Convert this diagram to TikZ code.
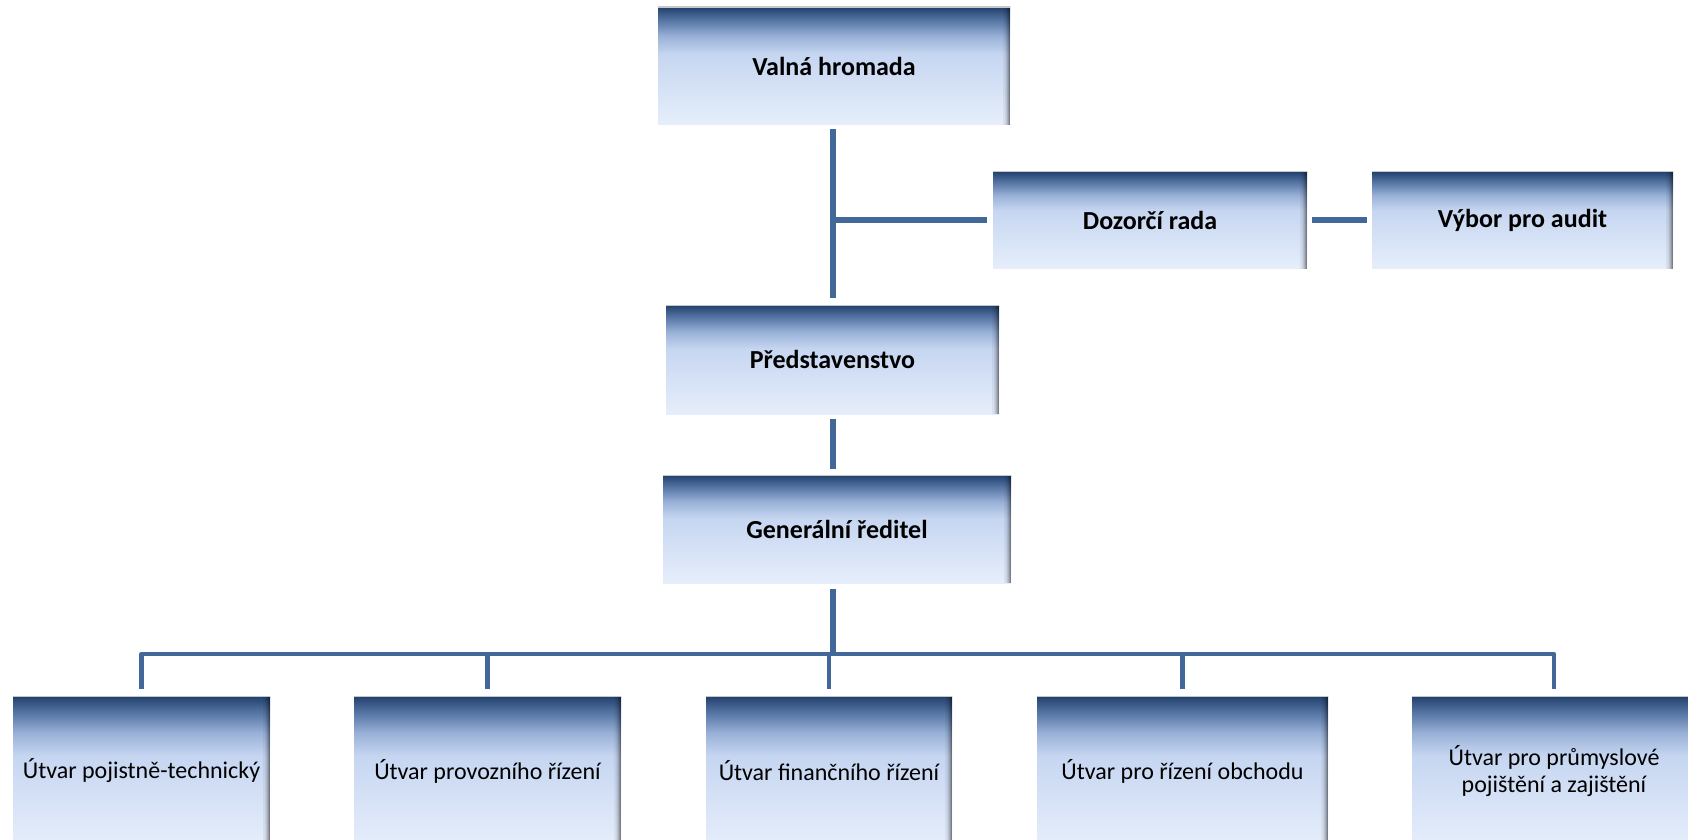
\documentclass[tikz,border=0pt]{standalone}
\usepackage{fontspec}
\setmainfont{Carlito}
\definecolor{lineblue}{RGB}{66,104,153}
\definecolor{sA}{HTML}{E6EEFB}
\definecolor{sB}{HTML}{C6D6F1}
\definecolor{sC}{HTML}{9AB2D8}
\definecolor{sD}{HTML}{50709F}
\definecolor{sE}{HTML}{22406C}
\pgfdeclareverticalshading{boxshade}{100bp}{color(0bp)=(sA); color(25bp)=(sA); color(55bp)=(sB); color(62.5bp)=(sC); color(70bp)=(sD); color(75bp)=(sE); color(100bp)=(sE)}
\tikzset{
  orgbox/.style={rectangle, inner sep=0pt, align=center, text=black, shade, shading=boxshade,
    path picture={
      \foreach \o [count=\i] in {0.05,0.1,0.16,0.24,0.34,0.46} {
        \fill[black, opacity=\o] ([xshift={(\i-7)*0.55pt}]path picture bounding box.north east) rectangle ([xshift={(\i-6)*0.55pt}]path picture bounding box.south east);
      }
      \draw[black!22, line width=1pt] (path picture bounding box.north west) -- (path picture bounding box.north east);
    }},
  topbox/.style={orgbox, font=\fontsize{13}{15.6}\selectfont\bfseries},
  unitbox/.style={orgbox, font=\fontsize{12}{13.5}\selectfont, minimum height=75pt},
  conn/.style={draw=lineblue, line width=3pt},
  busline/.style={draw=lineblue, line width=2.3pt, line join=round},
}
\begin{document}
\begin{tikzpicture}[x=0.5pt,y=-0.5pt]
\useasboundingbox (0,0) rectangle (1688,840);
\clip (0,0) rectangle (1688,840);

\node[topbox, minimum width=176pt, minimum height=59pt] (valna) at (834,66) {Valná hromada};
\node[topbox, minimum width=157pt, minimum height=48.5pt] (dozorci) at (1150,220) {Dozorčí rada};
\node[topbox, minimum width=150.5pt, minimum height=48.5pt] (vybor) at (1522.5,220) {Výbor pro audit};
\node[topbox, minimum width=166.5pt, minimum height=54.5pt] (predst) at (832.5,359.5) {Představenstvo};
\node[topbox, minimum width=174pt, minimum height=54pt] (general) at (837,529) {Generální ředitel};

\node[unitbox, minimum width=128.5pt] (u1) at (141.5,771) {Útvar pojistně-technický};
\node[unitbox, minimum width=133.5pt] (u2) at (487.5,771) {Útvar provozního řízení};
\node[unitbox, minimum width=123pt] (u3) at (829,771) {Útvar finančního řízení};
\node[unitbox, minimum width=145.5pt] (u4) at (1182.5,771) {Útvar pro řízení obchodu};
\node[unitbox, minimum width=142pt] (u5) at (1554,771) {Útvar pro průmyslové\\pojištění a zajištění};

\coordinate (busy) at (0,654);
\coordinate (vx) at (833,0);

\draw[conn] ([yshift=-2pt]valna.south -| vx) -- ([yshift=3.5pt]predst.north -| vx);
\draw[conn] (vx |- dozorci.west) -- ([xshift=-3pt]dozorci.west);
\draw[conn] ([xshift=2.5pt]dozorci.east) -- ([xshift=-2.5pt]vybor.west);
\draw[conn] ([yshift=-2.5pt]predst.south -| vx) -- ([yshift=3pt]general.north -| vx);
\draw[conn] ([yshift=-3pt]general.south -| vx) -- (vx |- busy);

\draw[busline] ([yshift=3.5pt]u1.north) -- (u1.north |- busy) -- (u5.north |- busy) -- ([yshift=3.5pt]u5.north);
\draw[busline] (u2.north |- busy) -- ([yshift=3.5pt]u2.north);
\draw[busline] (u3.north |- busy) -- ([yshift=3.5pt]u3.north);
\draw[busline] (u4.north |- busy) -- ([yshift=3.5pt]u4.north);
\end{tikzpicture}
\end{document}
